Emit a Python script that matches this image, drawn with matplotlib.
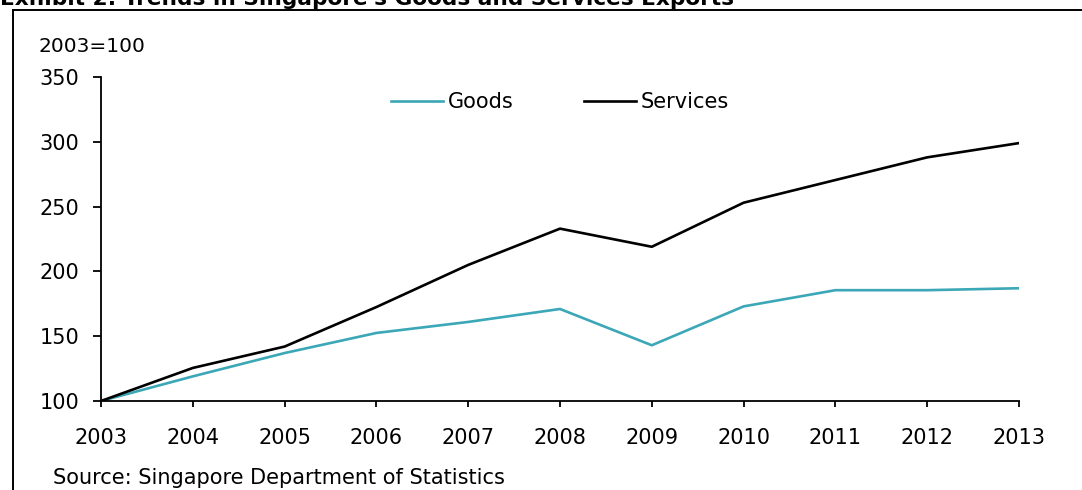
import matplotlib
matplotlib.use('Agg')
import matplotlib.pyplot as plt
from matplotlib.lines import Line2D

# Export indices, 2003 = 100
years = [2003, 2004, 2005, 2006, 2007, 2008, 2009, 2010, 2011, 2012, 2013]
goods = [100, 119, 137, 152.5, 161, 171, 143, 173, 185.5, 185.5, 187]
services = [100, 125.5, 142, 172.5, 205, 233, 219, 253, 270.5, 288, 299]
y_ticks = [100, 150, 200, 250, 300, 350]

goods_color = '#3BA7B7'
label_size = 15


def main():
    plt.rcParams['font.family'] = ['DejaVu Sans']
    fig = plt.figure(figsize=(10.82, 4.90), dpi=100)
    W, H = 1082, 490

    # border box, open at right and bottom
    fig.add_artist(Line2D([13 / W, 13 / W], [0, 1 - 10 / H], color='black',
                          lw=1.4, transform=fig.transFigure))
    fig.add_artist(Line2D([13 / W, 1], [1 - 10 / H, 1 - 10 / H], color='black',
                          lw=1.4, transform=fig.transFigure))

    fig.text(0.0, 1 - 5 / H, "Exhibit 2: Trends in Singapore's Goods and Services Exports",
             fontsize=15.6, fontweight='bold', va='baseline', ha='left')

    ax = fig.add_axes([101 / W, 1 - 401 / H, (1019 - 101) / W, (401 - 77) / H])
    ax.plot(years, goods, color=goods_color, lw=1.9, label='Goods')
    ax.plot(years, services, color='black', lw=1.9, label='Services')

    ax.set_xlim(2003, 2013)
    ax.set_ylim(100, 350)
    ax.set_xticks(years)
    ax.set_yticks(y_ticks)
    for side in ['top', 'right']:
        ax.spines[side].set_visible(False)
    for side in ['left', 'bottom']:
        ax.spines[side].set_linewidth(1.3)
    ax.tick_params(axis='y', direction='out', length=5.5, width=1.3, pad=10,
                   labelsize=label_size)
    ax.tick_params(axis='x', direction='out', length=4.5, width=1.3, pad=15,
                   labelsize=label_size)

    ax.legend(loc='center', bbox_to_anchor=(0.5, 1 - (102 - 77) / (401 - 77)),
              ncol=2, frameon=False, fontsize=label_size, handlelength=2.5,
              handletextpad=0.2, columnspacing=3.4)

    fig.text(38 / W, 1 - 47 / H, '2003=100', fontsize=label_size - 0.5, va='center', ha='left')
    fig.text(53 / W, 1 - 478 / H, 'Source: Singapore Department of Statistics',
             fontsize=label_size, va='center', ha='left')

    fig.savefig('out.png', dpi=100)


if __name__ == '__main__':
    main()
